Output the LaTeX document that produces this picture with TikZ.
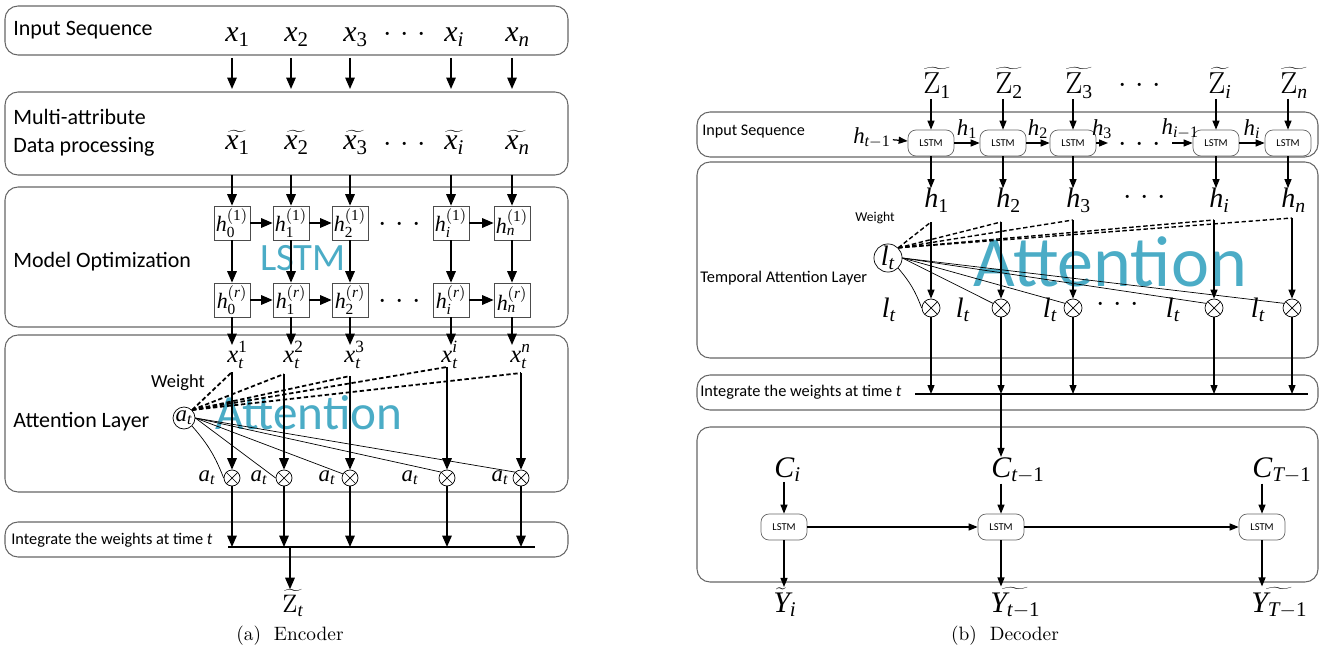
\documentclass[tikz,border=0pt]{standalone}
\usepackage{mathspec}
\setmathsfont(Digits,Latin)[Scale=1]{Liberation Serif}
\usepackage{tikz}
\usetikzlibrary{arrows.meta}
\setmainfont{Latin Modern Roman}
\newfontfamily\carlito{Carlito}
\definecolor{attcyan}{HTML}{4BACC6}
\newcommand{\tdots}{${\cdot}\hspace{5pt}{\cdot}\hspace{5pt}{\cdot}$}

\begin{document}
\begin{tikzpicture}[x=0.02cm, y=-0.02cm,
		panel/.style={draw=black!60, rounded corners=2.6mm, line width=0.6pt},
		txt/.style={font=\carlito\fontsize{12.5}{16}\selectfont, anchor=west, inner sep=0pt},
		stxt/.style={font=\carlito\fontsize{9.3}{11}\selectfont, anchor=west, inner sep=0pt},
		mlbl/.style={font=\fontsize{17}{20}\selectfont, inner sep=0pt, anchor=base west},
		slbl/.style={font=\fontsize{14}{16}\selectfont, inner sep=0pt},
		hbox/.style={draw=black!70, minimum width=0.72cm, minimum height=0.68cm, inner sep=0pt, font=\fontsize{12.5}{15}\selectfont},
		lstm/.style={draw=black!60, rounded corners=1.6mm, minimum width=0.92cm, minimum height=0.52cm, inner sep=0pt, font=\carlito\fontsize{6}{7}\selectfont},
		otimes/.style={circle, draw, minimum size=#1, inner sep=0pt,
			path picture={\draw (path picture bounding box.north west) -- (path picture bounding box.south east)
				(path picture bounding box.north east) -- (path picture bounding box.south west);}},
		arr/.style={-{Triangle[length=2.3mm,width=1.9mm]}, line width=0.9pt},
		sarr/.style={-{Triangle[length=1.8mm,width=1.4mm]}, line width=0.7pt},
		wdash/.style={dash pattern=on 2.5pt off 1.5pt, line width=#1},
		bigtxt/.style={text=attcyan, font=\carlito\fontsize{#1}{#1}\selectfont, inner sep=0pt}]
	
	\useasboundingbox (0,0) rectangle (1324,655);
	
	% ---------------- encoder ----------------
	\draw[panel] (5,6) rectangle (568,55);
	\draw[panel] (5,92) rectangle (568,175);
	\draw[panel] (5,187) rectangle (568,327);
	\draw[panel] (5,335) rectangle (568,492);
	\draw[panel] (5,522) rectangle (568,557);
	
	\node[txt] (encin) at (13,30) {Input Sequence};
	\node[txt, align=left] (encmul) at (13,133) {Multi-attribute\\Data processing};
	\node[txt] (encopt) at (13,262) {Model Optimization};
	\node[txt] (encatt) at (13,422) {Attention Layer};
	\node[stxt] (encint) at (11,540) {Integrate the weights at time \textit{t}};
	
	\node[bigtxt=22] (lstmtxt) at (303,258) {LSTM};
	\node[bigtxt=28] (atttxt) at (309,413) {Attention};
	
	\foreach \c/\x/\s/\k in {1/232/1/0, 2/291/2/1, 3/350/3/2, i/451/i/i, n/512/n/n}{
		\node[mlbl] (x\c) at (\x-7,42) {$x_{\s}$};
		\node[mlbl] (xt\c) at (\x-7,150) {$\widetilde{x_{\s}}$};
		\coordinate (ia\c) at (\x,58);
		\coordinate (ib\c) at (\x,89);
		\draw[arr] (ia\c) -- (ib\c);
		\node[hbox] (ha\c) at (\x,223) {$h_{\k}^{(1)}$};
		\node[hbox] (hb\c) at (\x,300) {$h_{\k}^{(r)}$};
		\coordinate (hin\c) at (\x,175);
		\draw[arr] (hin\c) -- (ha\c);
		\draw[arr] (ha\c) -- (hb\c);
		\coordinate (hout\c) at (\x,345);
		\draw[arr] (hb\c) -- (hout\c);
	}
	\node[font=\fontsize{17}{20}\selectfont] (xdots) at (405,35) {\tdots};
	\node[font=\fontsize{17}{20}\selectfont] (xtdots) at (405,145) {\tdots};
	\node[font=\fontsize{17}{20}\selectfont] (hadots) at (400,225) {\tdots};
	\node[font=\fontsize{17}{20}\selectfont] (hbdots) at (400,302) {\tdots};
	\draw[arr] (ha1) -- (ha2);
	\draw[arr] (ha2) -- (ha3);
	\draw[arr] (hai) -- (han);
	\draw[arr] (hb1) -- (hb2);
	\draw[arr] (hb2) -- (hb3);
	\draw[arr] (hbi) -- (hbn);
	
	\foreach \c/\x/\s in {1/227/1, 2/283/2, 3/344/3, i/441/i, n/510/n}
		\node[slbl, anchor=base west] (xs\c) at (\x,362) {$x_t^{\s}$};
	
	\node[font=\carlito\fontsize{10.5}{12}\selectfont, inner sep=0pt] (wgt) at (178,383) {Weight};
	\node[circle, draw, minimum size=0.44cm, inner sep=0pt, font=\fontsize{13}{15}\selectfont] (at) at (184,418) {$a_t$};
	
	\coordinate (ilw) at (228,547);
	\coordinate (ile) at (535,547);
	\draw[line width=1.7pt] (ilw) -- (ile);
	
	\foreach \c/\x/\y/\lx in {1/232/372/207, 2/284/374/259, 3/350/376/327, i/447/367/410, n/521/373/500}{
		\coordinate (dw\c) at (\x,\y);
		\node[otimes=0.32cm] (ox\c) at (\x,478) {};
		\node[slbl, font=\fontsize{13}{15}\selectfont] (al\c) at (\lx,478) {$a_t$};
		\draw[wdash=1pt] (at.north east) -- (dw\c);
		\draw[arr] (dw\c) -- (ox\c);
		\draw[arr] (ox\c) -- (ox\c |- ilw);
	}
	\draw[line width=0.4pt] (at.south east) to[bend left=10] (ox1.west);
	\draw[line width=0.4pt] (at.east) -- (ox2.west);
	\draw[line width=0.4pt] (at.east) -- (ox3.150);
	\draw[line width=0.4pt] (at.east) -- (oxi.135);
	\draw[line width=0.4pt] (at.east) -- (oxn.135);
	
	\coordinate (zo) at (290,547);
	\node[font=\fontsize{15}{17}\selectfont, inner sep=0pt] (zt) at (293,603) {$\widetilde{\mathrm{Z}_t}$};
	\draw[arr] (zo) -- (zo |- zt.north);
	
	\node[font=\fontsize{11}{13}\selectfont] (capa) at (290,636) {(a)\ \ Encoder};
	
	% ---------------- decoder ----------------
	\draw[panel] (697,112) rectangle (1318,157);
	\draw[panel] (697,162) rectangle (1318,358);
	\draw[panel] (697,375) rectangle (1318,410);
	\draw[panel] (697,427) rectangle (1318,582);
	
	\node[stxt, font=\carlito\fontsize{9.2}{11}\selectfont] (decin) at (702,132) {Input Sequence};
	\node[stxt] (dectal) at (700,278) {Temporal Attention Layer};
	\node[stxt] (decint) at (700,392) {Integrate the weights at time \textit{t}};
	
	\node[bigtxt=41] (atttxt2) at (1110,262) {Attention};
	
	\foreach \c/\x/\s in {1/931/1, 2/1003/2, 3/1073/3, i/1216/i, n/1288/n}{
		\node[lstm] (ls\c) at (\x,143) {LSTM};
		\node[mlbl, font=\fontsize{16}{18}\selectfont] (zz\c) at (\x-8,94) {$\widetilde{\mathrm{Z}_{\s}}$};
		\draw[sarr] (zz\c.south -| ls\c.north) -- (ls\c.north);
		\node[mlbl, font=\fontsize{16}{18}\selectfont] (hh\c) at (\x-7,208) {$h_{\s}$};
		\draw[sarr] (ls\c) -- (ls\c.south |- hh\c.north);
	}
	\node[font=\fontsize{16}{18}\selectfont] (zdots) at (1140,86) {\tdots};
	\node[font=\fontsize{16}{18}\selectfont] (hdots) at (1140,145) {\tdots};
	\node[font=\fontsize{16}{18}\selectfont] (hhdots) at (1145,198) {\tdots};
	
	\node[font=\fontsize{13}{15}\selectfont, inner sep=1pt] (hprev) at (872,138) {$h_{t-1}$};
	\coordinate (gapa) at (1108,143);
	\coordinate (gapb) at (1172,143);
	\draw[sarr] (hprev) -- (ls1);
	\draw[sarr] (ls1) -- (ls2) node[midway, above, inner sep=2pt, font=\fontsize{13}{15}\selectfont] (hc1) {$h_1$};
	\draw[sarr] (ls2) -- (ls3) node[midway, above, inner sep=2pt, font=\fontsize{13}{15}\selectfont] (hc2) {$h_2$};
	\draw[sarr] (ls3) -- (gapa) node[midway, above, inner sep=2pt, font=\fontsize{13}{15}\selectfont] (hc3) {$h_3$};
	\draw[sarr] (gapb) -- (lsi) node[pos=0.4, above, inner sep=2pt, font=\fontsize{13}{15}\selectfont] (hci) {$h_{i-1}$};
	\draw[sarr] (lsi) -- (lsn) node[midway, above, inner sep=2pt, font=\fontsize{13}{15}\selectfont] (hcn) {$h_i$};
	
	\node[font=\carlito\fontsize{7.7}{9}\selectfont, inner sep=0pt] (wgt2) at (875,218) {Weight};
	\node[circle, draw, minimum size=0.52cm, inner sep=0pt, font=\fontsize{16}{18}\selectfont] (lt) at (888,258) {$l_t$};
	
	\coordinate (jlw) at (915,394);
	\coordinate (jle) at (1308,394);
	\draw[line width=1pt] (jlw) -- (jle);
	
	\foreach \c/\x/\y/\lx in {1/931/222/889, 2/1001/222/963, 3/1073/220/1050, i/1214/220/1173, n/1292/218/1258}{
		\coordinate (vw\c) at (\x,\y);
		\node[otimes=0.36cm] (oy\c) at (\x,308) {};
		\node[font=\fontsize{16}{18}\selectfont, inner sep=0pt] (ll\c) at (\lx,310) {$l_t$};
		\draw[wdash=0.8pt] (lt.north east) -- (vw\c);
		\draw[sarr] (vw\c) -- (oy\c);
		\draw[sarr] (oy\c) -- (oy\c |- jlw);
	}
	\node[font=\fontsize{16}{18}\selectfont] (ldots) at (1118,305) {\tdots};
	\draw[line width=0.4pt] (lt.south east) to[bend left=10] (oy1.west);
	\draw[line width=0.4pt] (lt.east) -- (oy2.150);
	\draw[line width=0.4pt] (lt.east) -- (oy3.150);
	\draw[line width=0.4pt] (lt.east) -- (oyi.150);
	\draw[line width=0.4pt] (lt.east) -- (oyn.150);
	
	\foreach \c/\x/\s/\ys in {1/784/i/{\widetilde{Y}_i}, 2/1001/{t-1}/{\widetilde{Y_{t-1}}}, 3/1262/{T-1}/{\widetilde{Y_{T-1}}}}{
		\node[mlbl] (cc\c) at (\x-10,477) {$C_{\s}$};
		\node[lstm] (lb\c) at (\x,527) {LSTM};
		\draw[sarr] (cc\c.south -| lb\c.north) -- (lb\c.north);
		\node[mlbl] (yy\c) at (\x-11,612) {$\ys$};
		\draw[sarr] (lb\c) -- (lb\c.south |- yy\c.north);
	}
	\draw[sarr] (lb1) -- (lb2);
	\draw[sarr] (lb2) -- (lb3);
	\coordinate (jc) at (1001,394);
	\draw[sarr] (jc) -- (jc |- cc2.north);
	
	\node[font=\fontsize{11}{13}\selectfont] (capb) at (1005,636) {(b)\ \ Decoder};
	
\end{tikzpicture}
\end{document}
